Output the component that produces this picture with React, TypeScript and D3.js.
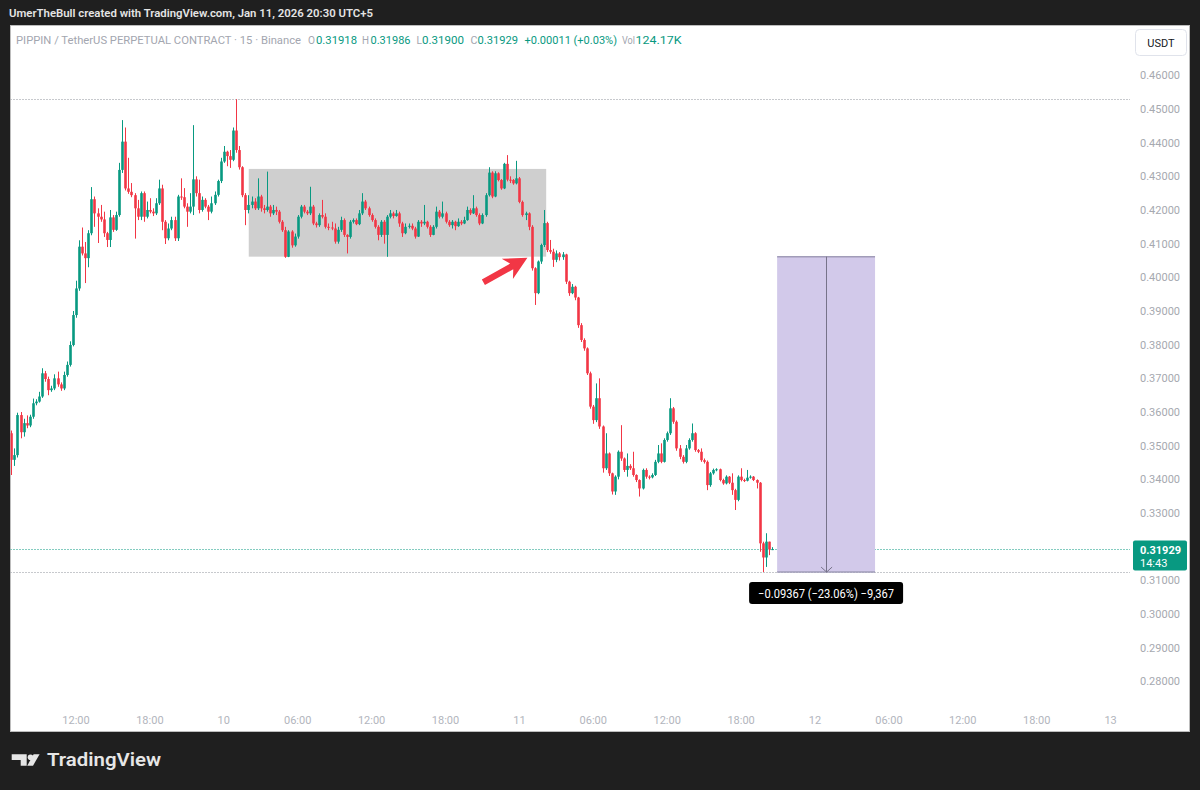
import React from "react";
import * as d3 from "d3";

// ---------- DATA ----------
const firstOpen = 0.3537;

const closes = [
  // Jan 9 06:45 ->
  0.3458,0.3472,0.3591,0.3540,0.3567,0.3560,0.3586,0.3626,0.3631,0.3646,
  0.3715,0.3698,0.3665,0.3670,0.3700,0.3682,0.3670,0.3710,0.3740,0.3799,
  0.3888,0.3967,0.4091,0.4071,0.4057,0.4131,0.4232,0.4190,0.4180,0.4172,
  0.4131,0.4111,0.4178,0.4141,0.4185,0.4319,0.4403,0.4264,0.4254,0.4244,
  0.4205,0.4180,0.4250,0.4180,0.4200,0.4195,0.4190,0.4220,0.4264,0.4165,
  0.4116,0.4145,0.4170,0.4116,0.4240,0.4238,0.4210,0.4195,0.4210,0.4291,
  0.4250,0.4200,0.4230,0.4210,0.4195,0.4220,0.4245,0.4286,0.4344,0.4373,
  0.4360,0.4349,0.4436,0.4378,0.4327,0.4244,0.4200,
  // range
  0.4215,0.4225,0.4205,0.4240,0.4205,0.4200,0.4210,0.4190,0.4200,0.4195,
  0.4165,0.4140,0.4061,0.4136,0.4095,0.4121,0.4180,0.4210,0.4195,0.4190,
  0.4210,0.4160,0.4155,0.4185,0.4180,0.4150,0.4148,0.4145,0.4106,0.4141,
  0.4170,0.4126,0.4120,0.4165,0.4170,0.4158,0.4190,
  0.4225,0.4205,0.4185,0.4170,0.4150,0.4126,0.4165,0.4126,0.4180,0.4190,
  0.4182,0.4190,0.4160,0.4131,0.4150,0.4153,0.4145,0.4121,0.4165,0.4160,
  0.4165,0.4150,0.4126,0.4150,0.4195,0.4180,0.4190,0.4165,0.4155,0.4165,
  0.4152,0.4165,0.4160,0.4170,0.4200,0.4190,0.4205,0.4185,0.4160,0.4185,
  0.4244,0.4311,0.4240,0.4309,0.4289,0.4264,0.4337,0.4290,0.4289,0.4279,
  0.4294,0.4224,0.4185,0.4190,0.4150,
  // breakdown and decline
  0.4027,0.3953,0.4047,0.4096,0.4161,0.4081,0.4076,0.4052,0.4071,0.4060,
  0.4068,0.3987,0.3953,0.3972,0.3940,0.3858,0.3814,0.3789,0.3715,0.3616,
  0.3576,0.3641,0.3557,0.3433,0.3477,0.3418,0.3364,0.3408,0.3482,0.3462,
  0.3428,0.3440,0.3433,0.3413,0.3398,0.3373,0.3428,0.3408,0.3406,0.3413,
  0.3452,0.3477,0.3452,0.3517,0.3537,0.3611,0.3571,0.3492,0.3467,0.3452,
  0.3492,0.3517,0.3537,0.3487,0.3482,0.3457,0.3452,0.3383,0.3418,0.3428,
  0.3430,0.3398,0.3388,0.3408,0.3390,0.3368,0.3339,0.3408,0.3398,0.3396,
  0.3405,0.3408,0.3398,0.3390,0.3210,0.3168,0.3215,0.31918,0.31929,
];

const highs = [
  0.3545,0.3492,0.3598,0.3600,0.3580,0.3590,0.3592,0.3640,0.3638,0.3660,
  0.3730,0.3722,0.3705,0.3678,0.3712,0.3720,0.3688,0.3720,0.3750,0.3810,
  0.3900,0.3990,0.4110,0.4148,0.4105,0.4140,0.4268,0.4240,0.4205,0.4215,
  0.4195,0.4135,0.4200,0.4185,0.4195,0.4340,0.4467,0.4445,0.4355,0.4280,
  0.4250,0.4230,0.4255,0.4255,0.4225,0.4235,0.4205,0.4235,0.4290,0.4275,
  0.4170,0.4160,0.4180,0.4180,0.4245,0.4294,0.4265,0.4220,0.4250,0.4452,
  0.4300,0.4290,0.4240,0.4235,0.4215,0.4240,0.4255,0.4290,0.4355,0.4390,
  0.4376,0.4378,0.4445,0.4529,0.4390,0.4330,0.4250,
  0.4244,0.4240,0.4235,0.4294,0.4245,0.4215,0.4314,0.4215,0.4215,0.4210,
  0.4200,0.4170,0.4150,0.4140,0.4140,0.4130,0.4185,0.4215,0.4215,0.4200,
  0.4269,0.4215,0.4165,0.4190,0.4230,0.4190,0.4160,0.4165,0.4160,0.4150,
  0.4180,0.4175,0.4128,0.4170,0.4175,0.4175,0.4200,
  0.4250,0.4230,0.4210,0.4190,0.4175,0.4155,0.4170,0.4170,0.4185,0.4200,
  0.4195,0.4200,0.4195,0.4165,0.4160,0.4160,0.4160,0.4150,0.4170,0.4170,
  0.4215,0.4168,0.4155,0.4155,0.4210,0.4200,0.4225,0.4195,0.4170,0.4170,
  0.4168,0.4175,0.4170,0.4180,0.4210,0.4205,0.4244,0.4210,0.4190,0.4190,
  0.4250,0.4327,0.4315,0.4315,0.4312,0.4292,0.4340,0.4363,0.4300,0.4292,
  0.4346,0.4298,0.4228,0.4195,0.4193,
  0.4155,0.4030,0.4050,0.4100,0.4200,0.4165,0.4111,0.4085,0.4080,0.4075,
  0.4075,0.4070,0.3990,0.3980,0.3975,0.3942,0.3864,0.3819,0.3792,0.3720,
  0.3621,0.3685,0.3700,0.3560,0.3537,0.3480,0.3420,0.3412,0.3486,0.3561,
  0.3465,0.3477,0.3445,0.3482,0.3415,0.3400,0.3432,0.3433,0.3412,0.3418,
  0.3458,0.3502,0.3507,0.3522,0.3542,0.3641,0.3615,0.3575,0.3502,0.3472,
  0.3502,0.3522,0.3566,0.3540,0.3490,0.3492,0.3462,0.3456,0.3422,0.3432,
  0.3433,0.3432,0.3402,0.3412,0.3410,0.3418,0.3372,0.3412,0.3433,0.3402,
  0.3428,0.3412,0.3410,0.3400,0.3392,0.3215,0.3240,0.3215,0.31986,
];

const lows = [
  0.3413,0.3440,0.3465,0.3522,0.3527,0.3552,0.3555,0.3580,0.3620,0.3628,
  0.3642,0.3690,0.3650,0.3660,0.3665,0.3675,0.3663,0.3665,0.3705,0.3735,
  0.3795,0.3880,0.3960,0.4065,0.3983,0.4030,0.4125,0.4150,0.4102,0.4165,
  0.4120,0.4090,0.4090,0.4135,0.4138,0.4180,0.4310,0.4258,0.4248,0.4238,
  0.4115,0.4170,0.4170,0.4165,0.4175,0.4190,0.4182,0.4185,0.4215,0.4140,
  0.4099,0.4110,0.4140,0.4108,0.4108,0.4230,0.4205,0.4150,0.4190,0.4185,
  0.4240,0.4190,0.4195,0.4205,0.4170,0.4190,0.4215,0.4240,0.4280,0.4340,
  0.4330,0.4325,0.4345,0.4370,0.4320,0.4238,0.4155,
  0.4190,0.4205,0.4200,0.4200,0.4195,0.4190,0.4195,0.4180,0.4185,0.4185,
  0.4160,0.4135,0.4058,0.4060,0.4088,0.4091,0.4115,0.4175,0.4190,0.4185,
  0.4185,0.4155,0.4148,0.4150,0.4175,0.4145,0.4140,0.4140,0.4100,0.4100,
  0.4135,0.4120,0.4071,0.4115,0.4160,0.4155,0.4155,
  0.4185,0.4200,0.4180,0.4165,0.4145,0.4110,0.4120,0.4100,0.4061,0.4175,
  0.4175,0.4180,0.4150,0.4120,0.4128,0.4145,0.4140,0.4115,0.4120,0.4150,
  0.4155,0.4145,0.4120,0.4125,0.4145,0.4175,0.4175,0.4160,0.4150,0.4145,
  0.4140,0.4150,0.4155,0.4158,0.4168,0.4185,0.4188,0.4180,0.4155,0.4158,
  0.4180,0.4240,0.4235,0.4238,0.4285,0.4260,0.4262,0.4285,0.4280,0.4275,
  0.4276,0.4220,0.4180,0.4170,0.4140,
  0.4020,0.3918,0.3950,0.4040,0.4090,0.4075,0.4070,0.4031,0.4045,0.4050,
  0.4052,0.3980,0.3945,0.3950,0.3932,0.3850,0.3808,0.3782,0.3710,0.3610,
  0.3565,0.3570,0.3550,0.3420,0.3428,0.3410,0.3355,0.3354,0.3400,0.3455,
  0.3422,0.3408,0.3428,0.3408,0.3392,0.3349,0.3370,0.3402,0.3400,0.3403,
  0.3410,0.3448,0.3448,0.3450,0.3512,0.3532,0.3565,0.3485,0.3460,0.3447,
  0.3448,0.3488,0.3512,0.3482,0.3478,0.3452,0.3447,0.3368,0.3378,0.3414,
  0.3424,0.3394,0.3384,0.3385,0.3386,0.3354,0.3309,0.3335,0.3394,0.3392,
  0.3394,0.3402,0.3395,0.3373,0.3185,0.31247,0.3140,0.3175,0.31900,
];

const priceTicks = [0.28,0.29,0.30,0.31,0.33,0.34,0.35,0.36,0.37,0.38,0.39,0.40,0.41,0.42,0.43,0.44,0.45,0.46];
const timeTickLabels = ["12:00","18:00","10","06:00","12:00","18:00","11","06:00","12:00","18:00","12","06:00","12:00","18:00","13"];
const timeTickBars = [21,45,69,93,117,141,165,189,213,237,261,285,309,333,357];

// annotations (bar index / price)
const rangeBox = { b0: 77.1, b1: 173.7, top: 0.4322, bottom: 0.40614 };
const measureBox = { b0: 248.7, b1: 280.5, from: 0.40614, to: 0.31247 };
const measureText = "\u22120.09367 (\u221223.06%) \u22129,367";
const arrowPts = { tailBar: 153.3, tailPrice: 0.39855, tipBar: 167.6, tipPrice: 0.40585 };
const highLine = 0.4529;
const lowLine = 0.31247;
const lastPrice = 0.31929;

const legendParts: [number, string, number, string][] = [
  [16, "PIPPIN / TetherUS PERPETUAL CONTRACT \u00b7 15 \u00b7 Binance", 285, "g"],
  [308, "O", 7, "g"], [316, "0.31918", 41, "v"],
  [362, "H", 7, "g"], [370.5, "0.31986", 40, "v"],
  [416.5, "L", 5.5, "g"], [422, "0.31900", 42, "v"],
  [470.5, "C", 7, "g"], [477.5, "0.31929", 40.5, "v"],
  [524.5, "+0.00011 (+0.03%)", 92.5, "v"],
  [622, "Vol", 13, "g"], [635.5, "124.17K", 46, "v"],
];

const GREEN = "#089981";
const RED = "#f23645";
const FONT = "Roboto, 'Noto Sans', sans-serif";

export default function App() {
  const x = d3.scaleLinear().domain([0, 247]).range([11.34, 771.9]);
  const y = d3.scaleLinear().domain([0.28, 0.46]).range([681.4, 75.3]);

  const candles = closes.map((c, i) => ({
    o: i === 0 ? firstOpen : closes[i - 1],
    h: highs[i],
    l: lows[i],
    c,
  }));

  // arrow polygon
  const tx = x(arrowPts.tailBar), ty = y(arrowPts.tailPrice);
  const px = x(arrowPts.tipBar), py = y(arrowPts.tipPrice);
  const len = Math.hypot(px - tx, py - ty);
  const ux = (px - tx) / len, uy = (py - ty) / len;
  const nx = -uy, ny = ux;
  const headLen = 23, headHalf = 11.5, shaftHalf = 3.2;
  const bx = px - ux * headLen, by = py - uy * headLen;
  const bx2 = px - ux * (headLen - 5), by2 = py - uy * (headLen - 5);
  const arrow = [
    [tx + nx * shaftHalf, ty + ny * shaftHalf],
    [bx2 + nx * shaftHalf, by2 + ny * shaftHalf],
    [bx + nx * headHalf, by + ny * headHalf],
    [px, py],
    [bx - nx * headHalf, by - ny * headHalf],
    [bx2 - nx * shaftHalf, by2 - ny * shaftHalf],
    [tx - nx * shaftHalf, ty - ny * shaftHalf],
  ].map((p) => p.join(",")).join(" ");

  const mx0 = x(measureBox.b0), mx1 = x(measureBox.b1);
  const mcx = (mx0 + mx1) / 2;
  const myTop = y(measureBox.from), myBot = y(measureBox.to);

  return (
    <div style={{ position: "absolute", left: 0, top: 0 }}>
      <svg width={1200} height={790} style={{ display: "block" }} fontFamily={FONT}>
        <defs>
          <clipPath id="plot">
            <rect x={10.5} y={26} width={1120} height={680} />
          </clipPath>
        </defs>
        <rect x={0} y={0} width={1200} height={790} fill="#1f1f1f" />
        <text x={9} y={17} fill="#e4e4e4" fontSize={11.5} fontWeight={600} textLength={364} lengthAdjust="spacingAndGlyphs">
          UmerTheBull created with TradingView.com, Jan 11, 2026 20:30 UTC+5
        </text>
        <rect x={10.5} y={25.5} width={1179} height={706} fill="#ffffff" stroke="#bdbdbd" />

        {/* legend */}
        {legendParts.map(([lx, t, w, k], i) => (
          <text key={i} x={lx} y={44} fontSize={11} fill={k === "g" ? "#a3a6af" : GREEN} textLength={w} lengthAdjust="spacingAndGlyphs">
            {t}
          </text>
        ))}

        {/* USDT button */}
        <rect x={1135.5} y={29.5} width={51} height={26} rx={4} fill="#fff" stroke="#e0e3eb" />
        <text x={1161} y={46.5} fontSize={11} fill="#131722" textAnchor="middle">USDT</text>

        <g clipPath="url(#plot)">
          {/* range box */}
          <rect
            x={x(rangeBox.b0)}
            y={y(rangeBox.top)}
            width={x(rangeBox.b1) - x(rangeBox.b0)}
            height={y(rangeBox.bottom) - y(rangeBox.top)}
            fill="#cfcfcf"
          />
          {/* dotted lines */}
          <line x1={10.5} x2={1130} y1={Math.round(y(highLine)) + 0.5} y2={Math.round(y(highLine)) + 0.5} stroke="#8f929a" strokeDasharray="1 2" />
          <line x1={10.5} x2={1130} y1={Math.round(y(lowLine)) + 0.5} y2={Math.round(y(lowLine)) + 0.5} stroke="#8f929a" strokeDasharray="1 2" />
          <line x1={10.5} x2={1130} y1={Math.round(y(lastPrice)) + 0.5} y2={Math.round(y(lastPrice)) + 0.5} stroke={GREEN} strokeDasharray="1 2" />

          {/* candles */}
          {candles.map((d, i) => {
            const cx = Math.round(x(i));
            const col = d.c >= d.o ? GREEN : RED;
            const top = y(Math.max(d.o, d.c));
            const bot = y(Math.min(d.o, d.c));
            const hi = y(Math.max(d.h, d.o, d.c));
            const lo = y(Math.min(d.l, d.o, d.c));
            return (
              <g key={i} fill={col}>
                <rect x={cx} y={hi} width={1} height={Math.max(1, lo - hi)} />
                <rect x={cx - 0.8} y={top} width={2.6} height={Math.max(1, bot - top)} />
              </g>
            );
          })}

          {/* measurement box */}
          <rect x={mx0} y={myTop} width={mx1 - mx0} height={myBot - myTop} fill="#d2c9ea" />
          <line x1={mx0} x2={mx1} y1={myTop} y2={myTop} stroke="#a19cb8" strokeWidth={1.5} />
          <line x1={mx0} x2={mx1} y1={myBot} y2={myBot} stroke="#a19cb8" strokeWidth={1.5} />
          <line x1={Math.round(mcx) + 0.5} x2={Math.round(mcx) + 0.5} y1={myTop} y2={myBot} stroke="#77738a" />
          <polyline
            points={`${mcx - 5},${myBot - 5} ${mcx + 0.5},${myBot} ${mcx + 6},${myBot - 5}`}
            fill="none"
            stroke="#77738a"
          />

          {/* red arrow */}
          <polygon points={arrow} fill={RED} />
        </g>

        {/* measurement label */}
        <rect x={mcx - 77} y={myBot + 10} width={154} height={22} rx={3} fill="#000" />
        <text x={mcx} y={myBot + 25.5} fontSize={12} fill="#fff" textAnchor="middle" textLength={136} lengthAdjust="spacingAndGlyphs">
          {measureText}
        </text>

        {/* price axis */}
        {priceTicks.map((p) => (
          <text key={p} x={1180} y={y(p) + 4} fontSize={11} fill="#a6a9b0" textAnchor="end">
            {p.toFixed(5)}
          </text>
        ))}
        <rect x={1133} y={y(lastPrice) - 8.5} width={54} height={30} rx={2} fill={GREEN} />
        <text x={1140} y={y(lastPrice) + 4.5} fontSize={11} fontWeight={700} fill="#fff">{lastPrice.toFixed(5)}</text>
        <text x={1140} y={y(lastPrice) + 18} fontSize={11} fill="#fff">14:43</text>

        {/* time axis */}
        {timeTickBars.map((b, i) => (
          <text key={i} x={x(b)} y={724} fontSize={11} fill="#b2b5bd" textAnchor="middle">
            {timeTickLabels[i]}
          </text>
        ))}

        {/* TradingView logo */}
        <g fill="#e6e6e6">
          <path d="M11.7,754.3 H26.7 V765.7 H20.7 V760 H11.7 Z" />
          <circle cx={30.5} cy={757.2} r={2.8} />
          <polygon points="33.6,754.3 39.6,754.3 33,765.7 27.2,765.7" />
          <text x={47} y={766} fontSize={18} fontWeight={600} textLength={114} lengthAdjust="spacingAndGlyphs">
            TradingView
          </text>
        </g>
      </svg>
    </div>
  );
}
